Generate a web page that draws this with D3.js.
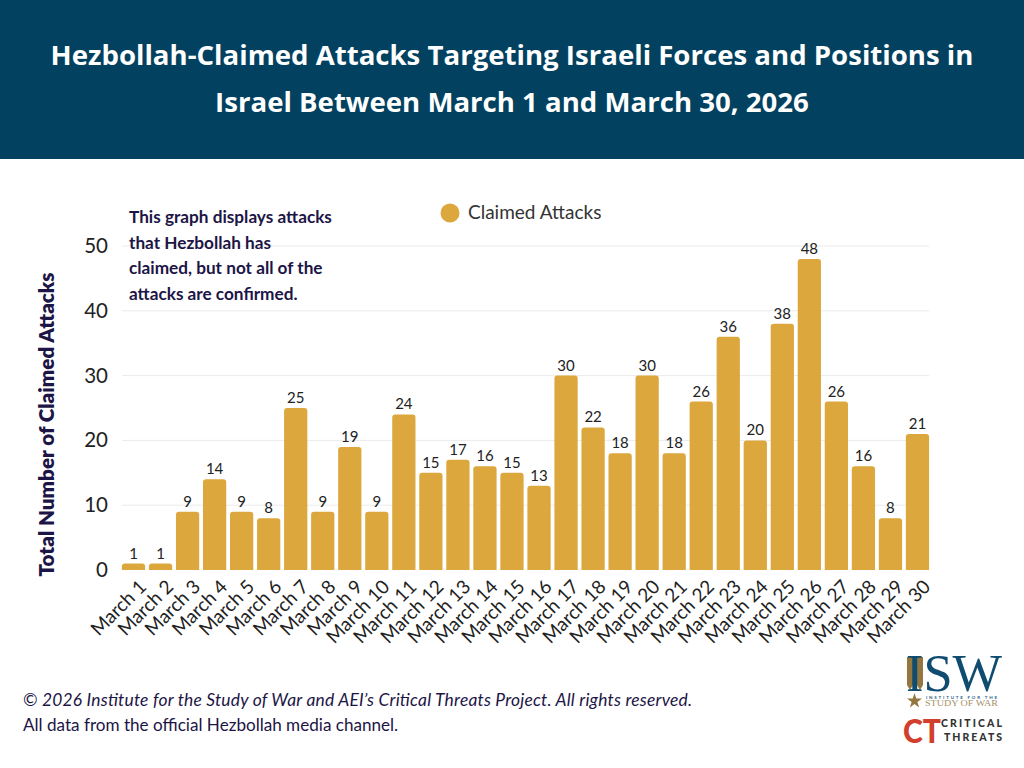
<!DOCTYPE html>
<html>
<head>
<meta charset="utf-8">
<script src="https://cdn.jsdelivr.net/npm/d3@7"></script>
<style>
  html, body { margin: 0; padding: 0; background: #fff; }
  svg { display: block; }
  text { font-family: Lato, sans-serif; }
</style>
</head>
<body>
<div class="chart"></div>
<script>
var width = 1024, height = 768;

var days = ["March 1", "March 2", "March 3", "March 4", "March 5", "March 6", "March 7", "March 8", "March 9", "March 10",
    "March 11", "March 12", "March 13", "March 14", "March 15", "March 16", "March 17", "March 18", "March 19", "March 20",
    "March 21", "March 22", "March 23", "March 24", "March 25", "March 26", "March 27", "March 28", "March 29", "March 30"];
var attacks = [1, 1, 9, 14, 9, 8, 25, 9, 19, 9, 24, 15, 17, 16, 15, 13, 30, 22, 18, 30, 18, 26, 36, 20, 38, 48, 26, 16, 8, 21];
var yTicks = [0, 10, 20, 30, 40, 50];
var titleLines = ["Hezbollah-Claimed Attacks Targeting Israeli Forces and Positions in", "Israel Between March 1 and March 30, 2026"];
var noteLines = ["This graph displays attacks", "that Hezbollah has", "claimed, but not all of the", "attacks are confirmed."];

var navy = "#1c1546";
var gold = "#dca73d";

var svg = d3.select(".chart").append("svg")
    .attr("width", width)
    .attr("height", height);

// header band
svg.append("rect")
    .attr("width", width)
    .attr("height", 159)
    .attr("fill", "#02415f");

svg.selectAll(".title")
    .data(titleLines)
    .enter()
    .append("text")
    .attr("class", "title")
    .attr("x", 512)
    .attr("y", (d, i) => 65 + i * 47)
    .attr("text-anchor", "middle")
    .attr("fill", "#fff")
    .style("font-family", "'Open Sans', sans-serif")
    .style("font-weight", 700)
    .style("font-size", "27.6px")
    .text(d => d);

var x = d3.scaleBand()
    .domain(days)
    .range([120, 931])
    .paddingInner(0.14)
    .paddingOuter(0.07);

var y = d3.scaleLinear()
    .domain([0, 50])
    .range([570, 246]);

// gridlines
svg.append("g")
    .selectAll("line")
    .data(yTicks.slice(1))
    .enter()
    .append("line")
    .attr("x1", 122)
    .attr("x2", 929)
    .attr("y1", d => y(d))
    .attr("y2", d => y(d))
    .attr("stroke", "#ebebeb")
    .attr("stroke-width", 1);

// y axis
var yAxis = svg.append("g")
    .attr("transform", "translate(112,0)")
    .call(d3.axisLeft(y).tickValues(yTicks).tickSize(0).tickPadding(4));
yAxis.select(".domain").remove();
yAxis.selectAll("text")
    .attr("fill", "#222")
    .style("font-size", "20.5px");

// bars, rounded on top only
svg.append("g")
    .selectAll("path")
    .data(attacks)
    .enter()
    .append("path")
    .attr("fill", gold)
    .attr("d", function (d, i) {
        var x0 = x(days[i]), w = x.bandwidth(), top = y(d), r = Math.min(3, y(0) - top);
        return "M" + x0 + "," + y(0) + "V" + (top + r) + "Q" + x0 + "," + top + " " + (x0 + r) + "," + top +
            "H" + (x0 + w - r) + "Q" + (x0 + w) + "," + top + " " + (x0 + w) + "," + (top + r) + "V" + y(0) + "Z";
    });

// value labels
svg.append("g")
    .selectAll("text")
    .data(attacks)
    .enter()
    .append("text")
    .attr("x", (d, i) => x(days[i]) + x.bandwidth() / 2)
    .attr("y", d => y(d) - 5)
    .attr("text-anchor", "middle")
    .attr("fill", "#222")
    .style("font-size", "15px")
    .text(d => d);

// x axis
var xAxis = svg.append("g")
    .attr("transform", "translate(0,570)")
    .call(d3.axisBottom(x).tickSize(0));
xAxis.select(".domain").remove();
xAxis.selectAll("text")
    .attr("fill", "#222")
    .style("font-size", "19px")
    .attr("text-anchor", "end")
    .attr("dx", 0)
    .attr("dy", 0)
    .attr("y", 0)
    .attr("transform", "translate(14,18) rotate(-45)");

// y title
svg.append("text")
    .attr("transform", "translate(54,424.5) rotate(-90)")
    .attr("text-anchor", "middle")
    .attr("fill", navy)
    .style("font-weight", 800)
    .style("font-size", "20.6px")
    .text("Total Number of Claimed Attacks");

// note
svg.selectAll(".note")
    .data(noteLines)
    .enter()
    .append("text")
    .attr("class", "note")
    .attr("x", 129)
    .attr("y", (d, i) => 223 + i * 25.5)
    .attr("fill", navy)
    .style("font-weight", 700)
    .style("font-size", "17.2px")
    .text(d => d);

// legend
svg.append("circle")
    .attr("cx", 450)
    .attr("cy", 213)
    .attr("r", 9.5)
    .attr("fill", gold);
svg.append("text")
    .attr("x", 468)
    .attr("y", 219)
    .attr("fill", "#333")
    .style("font-size", "19px")
    .text("Claimed Attacks");

// footer
svg.append("text")
    .attr("x", 23)
    .attr("y", 706)
    .attr("textLength", 669)
    .attr("fill", navy)
    .style("font-style", "italic")
    .style("font-size", "17.4px")
    .text("© 2026 Institute for the Study of War and AEI’s Critical Threats Project. All rights reserved.");
svg.append("text")
    .attr("x", 23)
    .attr("y", 731)
    .attr("fill", navy)
    .style("font-size", "17.1px")
    .text("All data from the official Hezbollah media channel.");

// ISW logo
var logo = svg.append("g");
logo.append("path")
    .attr("d", "M907,657H913V685L910,690L907,685Z M917,657H923V685L920,690L917,685Z")
    .attr("fill", "#94763f");
logo.append("text")
    .attr("x", 906)
    .attr("y", 691)
    .attr("textLength", 96)
    .attr("lengthAdjust", "spacingAndGlyphs")
    .attr("fill", "#0f4c70")
    .style("font-family", "'Liberation Serif', serif")
    .style("font-size", "52px")
    .text("ISW");
logo.append("path")
    .attr("d", d3.symbol().type(d3.symbolStar).size(70)())
    .attr("transform", "translate(914.5,701)")
    .attr("fill", "#94763f");
logo.append("text")
    .attr("x", 926)
    .attr("y", 699)
    .attr("textLength", 71)
    .attr("fill", "#2c5f86")
    .style("font-size", "4.5px")
    .style("font-weight", 700)
    .text("INSTITUTE FOR THE");
logo.append("text")
    .attr("x", 925)
    .attr("y", 706)
    .attr("textLength", 73)
    .attr("lengthAdjust", "spacingAndGlyphs")
    .attr("fill", "#a68f68")
    .style("font-family", "'Liberation Serif', serif")
    .style("font-size", "9px")
    .text("STUDY OF WAR");

// Critical Threats logo
logo.append("text")
    .attr("x", 903)
    .attr("y", 743)
    .attr("textLength", 38)
    .attr("lengthAdjust", "spacingAndGlyphs")
    .attr("fill", "#d23f2c")
    .style("font-weight", 900)
    .style("font-size", "32px")
    .text("CT");
logo.append("text")
    .attr("x", 941)
    .attr("y", 727)
    .attr("textLength", 61)
    .attr("fill", "#333")
    .style("font-weight", 900)
    .style("font-size", "10.5px")
    .text("CRITICAL");
logo.append("text")
    .attr("x", 944)
    .attr("y", 741)
    .attr("textLength", 58)
    .attr("fill", "#333")
    .style("font-weight", 900)
    .style("font-size", "10.5px")
    .text("THREATS");
</script>
</body>
</html>
